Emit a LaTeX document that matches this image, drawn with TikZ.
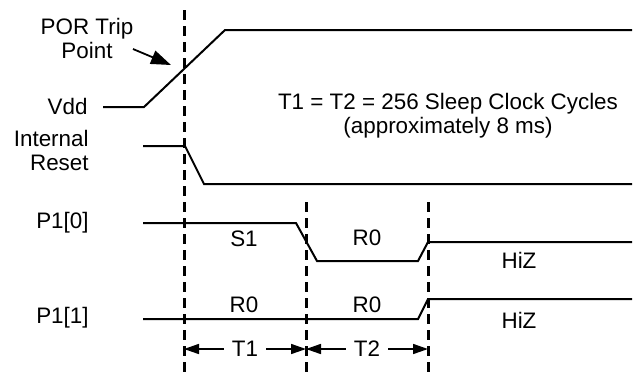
\documentclass[tikz,border=0pt]{standalone}
\usepackage{fontspec}
\setmainfont{Liberation Sans}
\usetikzlibrary{arrows.meta}

\tikzset{
    sig/.style={line width=1pt, line join=miter},
    cutline/.style={line width=1.5pt, dash pattern=on 5pt off 3pt},
    lbl/.style={font=\fontsize{11.2}{12}\selectfont, inner sep=0pt},
    dim/.style={line width=0.8pt, -{Triangle[length=7.5pt,width=5pt]}},
    pointer/.style={line width=0.9pt, -{Triangle[length=10pt,width=7pt]}},
}

\begin{document}
\begin{tikzpicture}[x=0.5pt, y=-0.5pt]
        \useasboundingbox (0,0) rectangle (633,377);

            \coordinate (d1t) at (184,10);
            \coordinate (d1b) at (184,372);
            \coordinate (d2t) at (306,202);
            \coordinate (d2b) at (306,372);
            \coordinate (d3t) at (428,202);
            \coordinate (d3b) at (428,372);

            \draw[cutline] (d1t) -- (d1b);
            \draw[cutline] (d2t) -- (d2b);
            \draw[cutline] (d3t) -- (d3b);

            \node[lbl, align=center] (por) at (87,38) {POR Trip\\Point};
            \node[lbl, anchor=east] (vdd) at (88,106) {Vdd};
            \node[lbl, anchor=east, align=right] (rst) at (89,150) {Internal\\Reset};
            \node[lbl, anchor=east] (p10) at (89,223) {P1[0]};
            \node[lbl, anchor=east] (p11) at (89,318) {P1[1]};

            \node[lbl, align=center] (note) at (448,116)
                {T1 = T2 = 256 Sleep Clock Cycles\\(approximately 8 ms)};

            \draw[sig] (103,107) -- (144,107) -- (225,30) -- (632,30);
            \draw[sig] (143,146) -- (185,146) -- (204,184) -- (632,184);
            \draw[sig] (143,223) -- (296,223) -- (317,261) -- (418,261) -- (428,242) -- (632,242);
            \draw[sig] (143,319) -- (418,319) -- (428,299) -- (632,299);

            \coordinate (trip) at (171,65);
            \coordinate (tail) at (133,49);
            \draw[pointer] (tail) -- (trip);

            \node[lbl] (s1) at (244,239) {S1};
            \node[lbl] (r0a) at (367,238) {R0};
            \node[lbl] (hiza) at (519,260) {HiZ};
            \node[lbl] (r0b) at (244,305) {R0};
            \node[lbl] (r0c) at (367,305) {R0};
            \node[lbl] (hizb) at (519,320) {HiZ};

            \node[lbl, inner sep=4pt] (t1) at (245,349) {T1};
            \node[lbl, inner sep=4pt] (t2) at (367,349) {T2};

            \draw[dim] (t1) -- (d1t |- t1);
            \draw[dim] (t1) -- (d2t |- t1);
            \draw[dim] (t2) -- (d2t |- t2);
            \draw[dim] (t2) -- (d3t |- t2);
\end{tikzpicture}
\end{document}
